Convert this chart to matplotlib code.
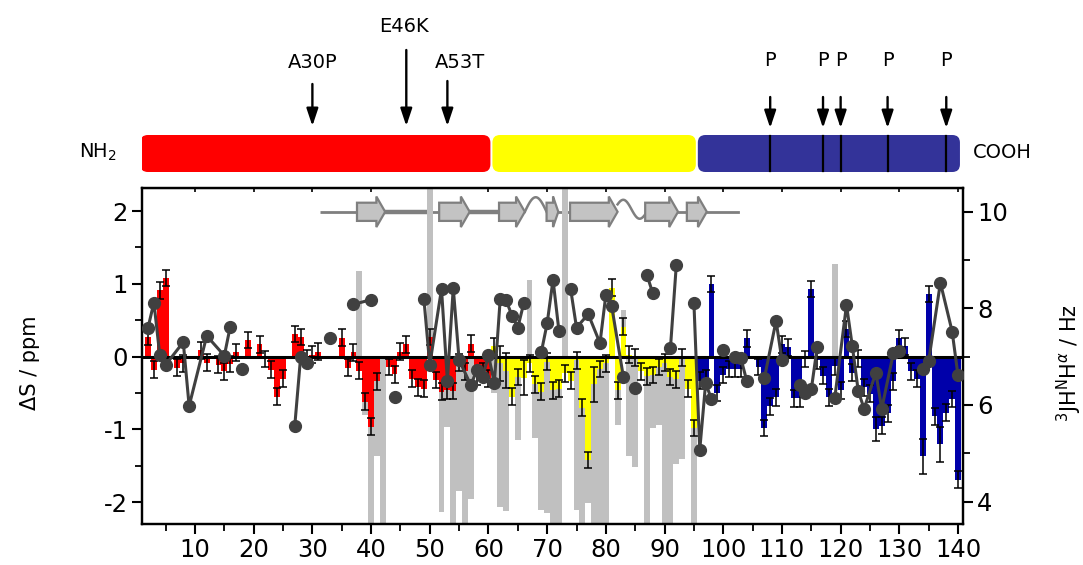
import numpy as np
import matplotlib
matplotlib.use('Agg')
import matplotlib.pyplot as plt
from matplotlib.patches import Polygon, FancyBboxPatch
from matplotlib.ticker import MultipleLocator

plt.rcParams['font.family'] = ['DejaVu Sans']

nan = np.nan

# ---------------- data ----------------
residues = list(range(1, 141))

delta_s = [
    nan, 0.27, -0.18, 0.91, 1.08, nan, -0.15, -0.09, nan, nan,          # 1-10
    0.09, -0.08, nan, -0.11, -0.20, -0.10, 0.06, nan, 0.23, nan,        # 11-20
    0.17, -0.03, -0.18, -0.55, -0.30, nan, 0.31, 0.27, -0.02, 0.03,     # 21-30
    0.07, nan, nan, nan, 0.26, -0.15, 0.06, -0.19, -0.62, -0.96,        # 31-40
    -0.34, nan, -0.14, -0.24, 0.07, 0.17, -0.30, -0.42, -0.44, 0.27,    # 41-50
    -0.32, -0.48, -0.46, -0.47, -0.08, -0.20, 0.18, -0.27, -0.20, -0.30,  # 51-60
    0.14, -0.09, -0.19, -0.55, -0.28, -0.29, -0.09, -0.38, -0.48, -0.07,  # 61-70
    -0.46, -0.44, -0.23, -0.33, -0.05, -0.70, -1.42, -0.38, -0.17, -0.09,  # 71-80
    0.95, -0.46, 0.41, 0.03, -0.01, -0.20, -0.27, -0.25, -0.14, -0.08,  # 81-90
    -0.28, -0.31, -0.01, -0.44, -0.98, -0.33, -0.30, 1.00, -0.50, -0.25,  # 91-100
    -0.17, -0.17, -0.17, 0.25, nan, -0.14, -0.98, -0.68, -0.56, 0.17,   # 101-110
    0.13, -0.57, -0.57, -0.03, 0.93, -0.05, -0.26, -0.56, -0.13, -0.46,  # 111-120
    0.38, -0.22, -0.02, -0.42, -0.51, -0.99, -0.95, -0.78, -0.34, 0.25,  # 121-130
    0.14, -0.20, -0.30, -1.37, 0.86, -0.82, -1.20, -0.77, -0.58, -1.69,  # 131-140
]

err_default = 0.115
err_large = {62: 0.24, 63: 0.24, 66: 0.24, 78: 0.24, 126: 0.165, 134: 0.24, 137: 0.24}

gray_res = [38, 39, 40, 41, 42, 50, 52, 53, 54, 55, 56, 57, 61, 62, 63, 65, 67, 68,
            69, 70, 71, 72, 73, 75, 76, 77, 78, 79, 80, 82, 83, 84, 85, 87, 88, 89,
            90, 91, 92, 93, 95, 119]
gray_val = [1.18, -0.80, -2.6, -1.37, -2.6, 2.6, -2.13, -0.96, -2.6, -1.85, -2.6, -1.95,
            -0.50, -2.06, -2.12, -1.14, 1.05, -1.12, -2.11, -2.15, -2.6, -2.6, 2.6,
            -2.11, -2.6, -2.01, -2.6, -2.6, -2.6, -0.94, 0.64, -1.37, -1.52, -2.6,
            -0.98, -0.94, -2.6, -2.6, -1.47, -1.40, -2.6, 1.27]

# 3J(HN-Ha) couplings (Hz); each inner list is one connected run
j_segments = [
    [(2, 7.60), (3, 8.12), (4, 7.03), (5, 6.83), (8, 7.30), (9, 5.98), (12, 7.43), (15, 7.02), (16, 7.62)],
    [(18, 6.75)],
    [(27, 5.57), (28, 7.00), (29, 6.86)],
    [(33, 7.39)],
    [(37, 8.08), (40, 8.18)],
    [(44, 6.16)],
    [(49, 8.19), (50, 6.83), (52, 8.40), (53, 6.50), (54, 8.42), (55, 6.93), (57, 6.41),
     (58, 6.72), (59, 6.57), (60, 7.03), (61, 6.46), (62, 8.19), (63, 8.17), (64, 7.85),
     (65, 7.60), (66, 8.10)],
    [(69, 7.09), (70, 7.69), (71, 8.59), (72, 7.54)],
    [(74, 8.40), (75, 7.60), (77, 7.88), (79, 7.28), (80, 8.28), (81, 8.04), (83, 6.57)],
    [(85, 6.35)],
    [(87, 8.69), (88, 8.31)],
    [(91, 7.17), (92, 8.89)],
    [(95, 8.12), (96, 5.07), (97, 6.45), (98, 6.12)],
    [(100, 7.14)],
    [(102, 7.00), (103, 6.97), (104, 6.50)],
    [(107, 6.55), (109, 7.74), (110, 6.93)],
    [(113, 6.41), (114, 6.24), (115, 6.32), (116, 7.19)],
    [(119, 6.14), (121, 8.07), (122, 7.21), (123, 6.29), (124, 5.92), (126, 6.67),
     (127, 5.92), (129, 7.08), (130, 7.12)],
    [(134, 6.75), (135, 6.91), (137, 8.53), (139, 7.52), (140, 6.61)],
]

domain_start = [1, 61, 96]
domain_end = [60, 95, 140]
domain_colors = ['#ff0000', '#ffff00', '#333399']
bar_colors = ['#ff0000', '#ffff00', '#0000aa']

mutation_labels = ['A30P', 'E46K', 'A53T']
mutation_pos = [30, 46, 53]
proline_pos = [108, 117, 120, 128, 138]

strand_ranges = [(37.6, 42.4), (51.6, 56.8), (61.8, 66.2), (69.9, 71.9),
                 (73.9, 82.0), (86.7, 92.3), (93.8, 97.2)]

xticks = list(range(10, 141, 10))

# ---------------- figure ----------------
W, H = 1083, 565
fig = plt.figure(figsize=(W / 100, H / 100), dpi=100)
ax_l, ax_r, ax_t, ax_b = 142, 963, 188, 524
ax = fig.add_axes([ax_l / W, 1 - ax_b / H, (ax_r - ax_l) / W, (ax_b - ax_t) / H])
XLIM = (0.97, 140.85)
ax.set_xlim(*XLIM)
ax.set_ylim(-2.298, 2.317)

def color_for(r):
    for s, e, c in zip(domain_start, domain_end, bar_colors):
        if s <= r <= e:
            return c
    return bar_colors[-1]

# gray background bars
ax.bar(gray_res, gray_val, width=1.0, color='#c0c0c0', edgecolor='none', zorder=1.5)

# coloured delta-S bars with error bars
ds = np.array(delta_s, dtype=float)
res = np.array(residues)
ok = ~np.isnan(ds)
errs = np.array([err_large.get(r, err_default) for r in residues])
ax.bar(res[ok], ds[ok], width=1.0, color=[color_for(r) for r in res[ok]],
       edgecolor='none', zorder=2.5)
ax.errorbar(res[ok], ds[ok], yerr=errs[ok], fmt='none', ecolor='black',
            elinewidth=1.1, capsize=3, capthick=1.1, zorder=3)
ax.axhline(0, color='black', lw=2.2, zorder=4)

# secondary-structure cartoon
y0, bh, hh = 1.99, 0.125, 0.21
cart_edge, cart_fill = '#7f7f7f', '#c3c3c3'
bb_x0, bb_x1 = 31.3, 102.5
ax.plot([bb_x0, strand_ranges[0][0]], [y0, y0], color=cart_edge, lw=2, zorder=1, solid_capstyle='butt')
ax.plot([strand_ranges[0][1], 49.5], [y0, y0], color=cart_edge, lw=3.2, zorder=1)
ax.plot([49.5, strand_ranges[1][0]], [y0, y0], color=cart_edge, lw=2, zorder=1)
ax.plot([strand_ranges[1][1], strand_ranges[2][0]], [y0, y0], color=cart_edge, lw=3.2, zorder=1)
t = np.linspace(0, 1, 40)
a0, a1 = strand_ranges[2][1], strand_ranges[3][0]
ax.plot(a0 + (a1 - a0) * t, y0 + 0.2 * np.sin(np.pi * t), color=cart_edge, lw=1.8, zorder=1)
ax.plot([strand_ranges[3][1], strand_ranges[4][0]], [y0, y0], color=cart_edge, lw=2, zorder=1)
b0, b1 = strand_ranges[4][1], strand_ranges[5][0]
ax.plot(b0 + (b1 - b0) * t, y0 + 0.07 + 0.11 * np.sin(2 * np.pi * t * 0.9 + 0.3) - 0.07 * t,
        color=cart_edge, lw=1.8, zorder=1)
ax.plot([strand_ranges[5][1], strand_ranges[6][0]], [y0, y0], color=cart_edge, lw=2, zorder=1)
ax.plot([strand_ranges[6][1], bb_x1], [y0, y0], color=cart_edge, lw=2, zorder=1)
for s, e in strand_ranges:
    hl = min(1.5, (e - s) * 0.45)
    verts = [(s, y0 - bh), (e - hl, y0 - bh), (e - hl, y0 - hh), (e, y0),
             (e - hl, y0 + hh), (e - hl, y0 + bh), (s, y0 + bh)]
    ax.add_patch(Polygon(verts, closed=True, facecolor=cart_fill, edgecolor=cart_edge,
                         lw=1.6, zorder=2, joinstyle='miter'))

# J-coupling axis
ax2 = ax.twinx()
ax2.set_ylim(3.536, 10.49)
for seg in j_segments:
    xs = [p[0] for p in seg]
    ys = [p[1] for p in seg]
    ax2.plot(xs, ys, '-o', color='#404040', lw=2.2, ms=8.5, mec='#404040', zorder=5)

# axes styling
for a in (ax, ax2):
    for sp in a.spines.values():
        sp.set_linewidth(1.6)
ax.xaxis.set_major_locator(plt.FixedLocator(xticks))
ax.xaxis.set_minor_locator(MultipleLocator(5))
ax.yaxis.set_major_locator(MultipleLocator(1))
ax.yaxis.set_minor_locator(MultipleLocator(0.5))
ax2.yaxis.set_major_locator(MultipleLocator(2))
ax2.yaxis.set_minor_locator(MultipleLocator(1))
ax.tick_params(which='major', direction='out', length=7, width=1.5, labelsize=17.5, pad=3)
ax.tick_params(which='minor', direction='out', length=5, width=1.3)
ax2.tick_params(which='major', direction='out', length=7, width=1.5, labelsize=17.5, pad=3)
ax2.tick_params(which='minor', direction='out', length=5, width=1.3)
ax.set_yticks([-2, -1, 0, 1, 2])
ax.set_yticklabels(['-2', '-1', '0', '1', '2'])

sec = ax.secondary_xaxis('top')
sec.xaxis.set_major_locator(plt.FixedLocator(xticks))
sec.tick_params(direction='in', length=3, width=1.2, labelsize=0)
sec.set_xticklabels([])

ax.set_ylabel('ΔS / ppm', fontsize=15, va='center', ha='center')
ax.yaxis.set_label_coords(-0.136, 0.48)
ax2.set_ylabel(r'$^{3}$JH$^{\mathrm{N}}$H$^{\alpha}$ / Hz', fontsize=15, rotation=90,
               va='center', ha='center')
ax2.yaxis.set_label_coords(1.13, 0.48)

# ---------------- domain map on top ----------------
axt = fig.add_axes([ax_l / W, 1 - ax_t / H, (ax_r - ax_l) / W, ax_t / H])
axt.set_xlim(*XLIM)
axt.set_ylim(ax_t, 0)
axt.axis('off')
px_per_res = (ax_r - ax_l) / (XLIM[1] - XLIM[0])
for s, e, c in zip(domain_start, domain_end, domain_colors):
    x0 = s - 0.5 + 0.17
    x1 = e + 0.5 - 0.17
    axt.add_patch(FancyBboxPatch((x0, 135), x1 - x0, 37,
                                 boxstyle='round,pad=0,rounding_size=1.3',
                                 mutation_aspect=px_per_res, facecolor=c, edgecolor='none'))
arrow_props = dict(arrowstyle='-|>,head_length=0.75,head_width=0.25',
                   mutation_scale=14, lw=1.7, color='black', shrinkA=0, shrinkB=0)
for p in proline_pos:
    axt.plot([p, p], [136, 171], color='black', lw=1.6)
    axt.annotate('', xy=(p, 128), xytext=(p, 97), arrowprops=arrow_props)
    axt.text(p, 61, 'P', ha='center', va='center', fontsize=14)
tails = {'A30P': 84, 'E46K': 50, 'A53T': 81}
label_y = {'A30P': 63, 'E46K': 27, 'A53T': 63}
for lab, p in zip(mutation_labels, mutation_pos):
    axt.annotate('', xy=(p, 126), xytext=(p, tails[lab]), arrowprops=arrow_props)
xt = {'A30P': 30, 'E46K': 45.6, 'A53T': 55.2}
for lab in mutation_labels:
    axt.text(xt[lab], label_y[lab], lab, ha='center', va='center', fontsize=14)

axt.text(-6.6, 152, r'NH$_2$', ha='center', va='center', fontsize=14, clip_on=False)
axt.text(147.5, 153, 'COOH', ha='center', va='center', fontsize=14, clip_on=False)

fig.savefig('out.png', dpi=100)
